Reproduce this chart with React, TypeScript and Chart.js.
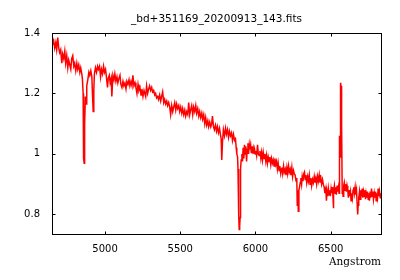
import { useEffect, useRef } from "react";
import { Chart, registerables } from "chart.js";

Chart.register(...registerables);

const TITLE = "_bd+351169_20200913_143.fits";
const X_LABEL = "Angstrom";
const X_TICKS = [5000, 5500, 6000, 6500];
const X_TICK_LABELS = ["5000", "5500", "6000", "6500"];
const Y_TICKS = [0.8, 1.0, 1.2, 1.4];
const Y_TICK_LABELS = ["0.8", "1", "1.2", "1.4"];
const X_RANGE = [4647, 6835];
const Y_RANGE = [0.735, 1.4];

const WAVELENGTH = [
  4648, 4652, 4658, 4665, 4672, 4678, 4685, 4692, 4698, 4705, 4712, 4718, 4725, 4732, 4738, 4745, 4752, 4758, 4765, 4772, 4778, 4785, 4792, 4798, 4805, 4812, 4818, 4825, 4832, 4838, 4845, 4849, 4854, 4856, 4858, 4861, 4863, 4865, 4869, 4874, 4878, 4885, 4892, 4898, 4905, 4912, 4916, 4921, 4925, 4929, 4936, 4943, 4950,
  4956, 4963, 4970, 4976, 4983, 4990, 4996, 5003, 5010, 5016, 5021, 5028, 5034, 5041, 5045, 5052, 5059, 5065, 5072, 5079, 5085, 5092, 5099, 5105, 5112, 5119, 5125, 5132, 5139, 5145, 5152, 5159, 5165, 5172, 5179, 5185, 5192, 5199, 5205, 5212, 5219, 5225, 5232, 5239, 5245, 5252, 5259,
  5263, 5270, 5276, 5283, 5290, 5296, 5303, 5310, 5316, 5323, 5330, 5336, 5343, 5350, 5356, 5363, 5370, 5376, 5383, 5390, 5396, 5403, 5410, 5416, 5423, 5430, 5436, 5443, 5450, 5456, 5463, 5470, 5476, 5483, 5490, 5496, 5503, 5510, 5516, 5523, 5530, 5536, 5543, 5550, 5556, 5563,
  5569, 5576, 5583, 5589, 5596, 5603, 5609, 5616, 5623, 5629, 5636, 5643, 5649, 5656, 5663, 5669, 5676, 5683, 5689, 5696, 5703, 5709, 5714, 5721, 5727, 5734, 5741, 5747, 5754, 5761, 5767, 5772, 5776, 5781, 5787, 5794, 5801, 5807, 5814, 5821, 5827, 5834, 5841, 5847, 5854, 5861, 5867, 5872, 5876, 5881,
  5884, 5887, 5890, 5892, 5895, 5898, 5901, 5905, 5910, 5914, 5918, 5923, 5927, 5932, 5936, 5941, 5945, 5950, 5954, 5959, 5963, 5968, 5972, 5976, 5981, 5985, 5990, 5994, 5999, 6003, 6008, 6014, 6019, 6025, 6030, 6036, 6041, 6047, 6052, 6058, 6063, 6069, 6074, 6080, 6085, 6091, 6096, 6102, 6107, 6113, 6118, 6124, 6129, 6135, 6140, 6146, 6151, 6157, 6162, 6168, 6173,
  6176, 6181, 6187, 6192, 6198, 6203, 6209, 6214, 6220, 6225, 6231, 6236, 6242, 6247, 6253, 6258, 6264, 6270, 6275, 6278, 6282, 6285, 6289, 6293, 6298, 6302, 6307, 6311, 6316, 6322, 6326, 6331, 6336, 6341, 6347, 6352, 6358, 6363, 6369, 6374, 6380, 6385, 6391, 6396, 6402, 6407, 6413, 6418, 6424, 6429, 6435, 6440, 6446, 6451, 6457, 6462, 6468, 6472, 6476, 6481, 6485, 6490,
  6494, 6498, 6503, 6507, 6512, 6516, 6518, 6521, 6525, 6530, 6534, 6538, 6543, 6547, 6552, 6556, 6559, 6563, 6566, 6569, 6572, 6574, 6577, 6580, 6583, 6587, 6591, 6596, 6600, 6605, 6609, 6614, 6618, 6623, 6627, 6632, 6636, 6641, 6645, 6649, 6654, 6658, 6663, 6667, 6672, 6676, 6680, 6683, 6687, 6692, 6696, 6701, 6705, 6710, 6714, 6719, 6723, 6727, 6732, 6736, 6741, 6745, 6750, 6754, 6758, 6763, 6767, 6772, 6776, 6781, 6785, 6790, 6794, 6799, 6803, 6807, 6812, 6816, 6821, 6825, 6830, 6834,
];

const FLUX = [
  1.38, 1.365, 1.375, 1.35, 1.368, 1.345, 1.385, 1.35, 1.335, 1.345, 1.3, 1.33, 1.315, 1.34, 1.3, 1.325, 1.285, 1.31, 1.295, 1.28, 1.315, 1.325, 1.29, 1.3, 1.275, 1.3, 1.28, 1.295, 1.27, 1.285, 1.265, 1.25, 1.2, 1.05, 0.985, 0.969, 1.02, 1.1, 1.19, 1.165, 1.225, 1.245, 1.27, 1.26, 1.275, 1.255, 1.2, 1.14, 1.21, 1.265, 1.285, 1.27, 1.29,
  1.28, 1.29, 1.255, 1.28, 1.265, 1.29, 1.27, 1.28, 1.25, 1.22, 1.25, 1.26, 1.235, 1.25, 1.19, 1.26, 1.245, 1.265, 1.24, 1.255, 1.235, 1.25, 1.26, 1.23, 1.22, 1.24, 1.225, 1.235, 1.215, 1.24, 1.23, 1.245, 1.225, 1.24, 1.225, 1.26, 1.225, 1.235, 1.22, 1.2, 1.23, 1.21, 1.22, 1.195, 1.215, 1.19, 1.21,
  1.21, 1.19, 1.225, 1.2, 1.215, 1.225, 1.21, 1.22, 1.205, 1.21, 1.195, 1.2, 1.185, 1.19, 1.18, 1.195, 1.175, 1.19, 1.205, 1.17, 1.18, 1.165, 1.175, 1.16, 1.17, 1.155, 1.13, 1.16, 1.14, 1.155, 1.17, 1.145, 1.165, 1.15, 1.16, 1.14, 1.155, 1.135, 1.15, 1.13, 1.145, 1.125, 1.14, 1.13, 1.17, 1.13,
  1.145, 1.16, 1.13, 1.155, 1.14, 1.16, 1.135, 1.15, 1.125, 1.14, 1.12, 1.135, 1.115, 1.13, 1.1, 1.12, 1.095, 1.11, 1.09, 1.105, 1.09, 1.1, 1.125, 1.09, 1.08, 1.095, 1.075, 1.09, 1.07, 1.085, 1.065, 1.05, 0.98, 1.04, 1.08, 1.06, 1.085, 1.065, 1.08, 1.055, 1.075, 1.06, 1.07, 1.045, 1.065, 1.045, 1.05, 1.02, 1.0, 0.99,
  0.95, 0.94, 0.8, 0.75, 0.76, 0.79, 0.95, 0.98, 1.0, 0.975, 1.02, 0.985, 1.03, 1.0, 1.025, 0.975, 1.015, 1.035, 1.0, 1.03, 1.015, 1.03, 1.005, 1.025, 1.01, 1.02, 1.0, 1.015, 1.0, 1.01, 0.995, 1.03, 1.0, 0.995, 1.01, 0.985, 1.005, 0.98, 1.005, 0.985, 1.0, 0.975, 0.995, 0.97, 0.99, 0.975, 0.99, 0.965, 0.985, 0.97, 0.98, 0.96, 0.985, 0.965, 0.975, 0.95, 0.97, 0.945, 0.96, 0.935, 0.95,
  0.955, 0.935, 0.96, 0.94, 0.95, 0.93, 0.955, 0.935, 0.96, 0.94, 0.95, 0.93, 0.955, 0.925, 0.945, 0.935, 0.93, 0.91, 0.92, 0.83, 0.88, 0.81, 0.88, 0.89, 0.905, 0.92, 0.9, 0.925, 0.91, 0.935, 0.94, 0.915, 0.93, 0.905, 0.925, 0.91, 0.93, 0.9, 0.92, 0.895, 0.915, 0.905, 0.925, 0.905, 0.92, 0.9, 0.925, 0.91, 0.93, 0.905, 0.92, 0.9, 0.915, 0.9, 0.89, 0.87, 0.885, 0.845, 0.875, 0.86, 0.885, 0.865,
  0.88, 0.86, 0.885, 0.87, 0.89, 0.855, 0.82, 0.875, 0.895, 0.87, 0.89, 0.865, 0.895, 0.875, 0.89, 0.87, 1.06, 0.99, 1.235, 1.225, 1.17, 1.1, 0.87, 0.88, 0.86, 0.895, 0.905, 0.88, 0.9, 0.875, 0.895, 0.88, 0.855, 0.88, 0.86, 0.875, 0.845, 0.87, 0.855, 0.88, 0.89, 0.87, 0.89, 0.865, 0.88, 0.84, 0.8, 0.83, 0.855, 0.875, 0.85, 0.88, 0.86, 0.885, 0.855, 0.875, 0.86, 0.88, 0.85, 0.87, 0.855, 0.875, 0.85, 0.87, 0.845, 0.875, 0.855, 0.885, 0.86, 0.875, 0.85, 0.87, 0.855, 0.875, 0.845, 0.87, 0.855, 0.885, 0.86, 0.875, 0.855, 0.87,
];

const framePlugin = {
  id: "gnuFrame",
  afterDatasetsDraw(chart: any) {
    const { ctx, chartArea: a, scales } = chart;
    const L = Math.round(a.left) + 0.5;
    const R = Math.round(a.right) + 0.5;
    const T = Math.round(a.top) + 0.5;
    const B = Math.round(a.bottom) + 0.5;
    const len = 3;
    ctx.save();
    ctx.strokeStyle = "#000";
    ctx.lineWidth = 1;
    ctx.strokeRect(L, T, R - L, B - T);
    ctx.beginPath();
    X_TICKS.forEach((v) => {
      const x = Math.round(scales.x.getPixelForValue(v)) + 0.5;
      ctx.moveTo(x, B);
      ctx.lineTo(x, B - len);
      ctx.moveTo(x, T);
      ctx.lineTo(x, T + len);
    });
    Y_TICKS.forEach((v) => {
      const y = Math.round(scales.y.getPixelForValue(v)) + 0.5;
      ctx.moveTo(L, y);
      ctx.lineTo(L + len, y);
      ctx.moveTo(R, y);
      ctx.lineTo(R - len, y);
    });
    ctx.stroke();
    ctx.restore();
  },
};

export default function App() {
  const ref = useRef<HTMLCanvasElement | null>(null);

  useEffect(() => {
    document.body.style.margin = "0";
    const canvas = ref.current;
    if (!canvas) return;
    const points = WAVELENGTH.map((x, i) => ({ x, y: FLUX[i] }));
    const chart = new Chart(canvas, {
      type: "line",
      data: {
        datasets: [
          {
            data: points,
            borderColor: "#ff0000",
            borderWidth: 1.5,
            pointRadius: 0,
            tension: 0,
            fill: false,
          },
        ],
      },
      plugins: [framePlugin],
      options: {
        animation: false,
        responsive: false,
        devicePixelRatio: 1,
        parsing: false,
        layout: { padding: { left: 0, right: 19, top: 0, bottom: 0 } },
        plugins: {
          legend: { display: false },
          tooltip: { enabled: false },
          title: {
            display: true,
            text: TITLE,
            color: "#000",
            fullSize: false,
            font: { family: "DejaVu Sans", size: 10.5, weight: "normal", lineHeight: 1.2 },
            padding: { top: 12.5, bottom: 7.9 },
          },
        },
        scales: {
          x: {
            type: "linear",
            min: X_RANGE[0],
            max: X_RANGE[1],
            grid: { display: false, drawTicks: false },
            border: { display: false },
            afterBuildTicks: (s: any) => {
              s.ticks = X_TICKS.map((value) => ({ value }));
            },
            afterFit: (s: any) => {
              s.height = 46;
            },
            ticks: {
              padding: 9,
              color: "#000",
              maxRotation: 0,
              autoSkip: false,
              font: { family: "DejaVu Sans", size: 10 },
              callback: (v: any) => {
                const i = X_TICKS.indexOf(Number(v));
                return i >= 0 ? X_TICK_LABELS[i] : "";
              },
            },
            title: {
              display: true,
              text: X_LABEL,
              align: "end",
              color: "#000",
              font: { family: "DejaVu Serif", size: 10.5, lineHeight: 1.2 },
              padding: { top: 0, bottom: 11.7 },
            },
          },
          y: {
            type: "linear",
            min: Y_RANGE[0],
            max: Y_RANGE[1],
            grid: { display: false, drawTicks: false },
            border: { display: false },
            afterBuildTicks: (s: any) => {
              s.ticks = Y_TICKS.map((value) => ({ value }));
            },
            afterFit: (s: any) => {
              s.width = 52;
            },
            ticks: {
              padding: 12,
              color: "#000",
              autoSkip: false,
              font: { family: "DejaVu Sans", size: 10 },
              callback: (v: any) => {
                const i = Y_TICKS.findIndex((t) => Math.abs(t - Number(v)) < 1e-6);
                return i >= 0 ? Y_TICK_LABELS[i] : "";
              },
            },
          },
        },
      },
    });
    return () => chart.destroy();
  }, []);

  return (
    <div style={{ position: "absolute", left: 0, top: 0, width: 400, height: 280, background: "#fff" }}>
      <canvas ref={ref} width={400} height={280} style={{ width: 400, height: 280, display: "block" }} />
    </div>
  );
}
